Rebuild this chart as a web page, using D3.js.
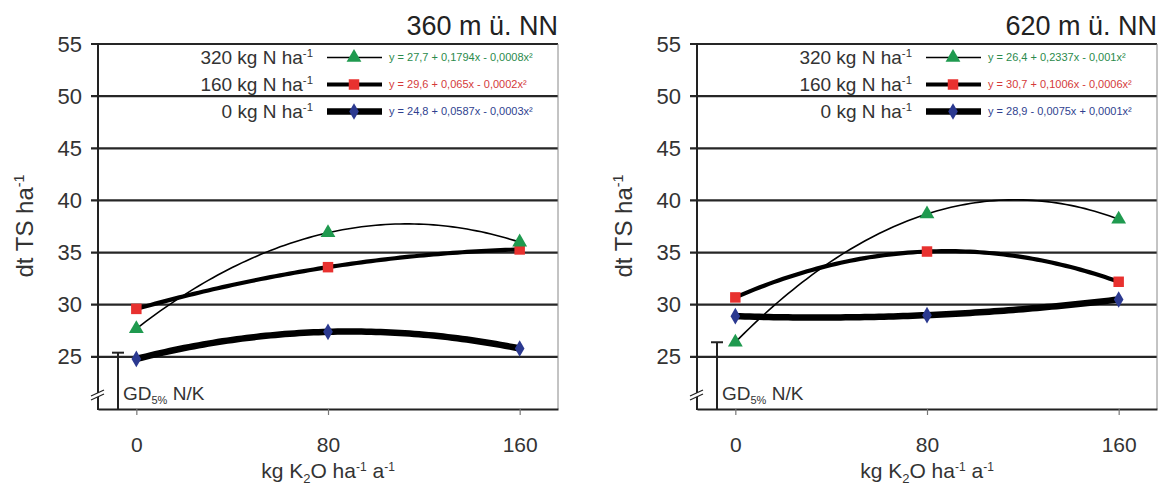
<!DOCTYPE html>
<html>
<head>
<meta charset="utf-8">
<script src="https://cdn.jsdelivr.net/npm/d3@7"></script>
<style>
  html, body { margin: 0; padding: 0; background: #fff; }
  svg { display: block; font-family: "Liberation Sans", Arial, sans-serif; }
</style>
</head>
<body>
<svg id="chart" width="1163" height="488"></svg>
<script>
// K2O application levels (kg K2O ha-1 a-1)
const kLevels = [0, 80, 160];
const yTicks = [25, 30, 35, 40, 45, 50, 55];
const nLabels = ["320", "160", "0"];

// Dry matter yield (dt TS ha-1), 360 m above sea level
const yield360_N320 = [27.7, 36.9, 36.0];
const yield360_N160 = [29.6, 33.6, 35.3];
const yield360_N0   = [24.8, 27.4, 25.8];
// Dry matter yield (dt TS ha-1), 620 m above sea level
const yield620_N320 = [26.4, 38.7, 38.2];
const yield620_N160 = [30.7, 35.1, 32.2];
const yield620_N0   = [28.9, 29.0, 30.5];

// Regression coefficients [c, b, a] for y = c + b·x + a·x²
const coef360 = [[27.7, 0.1794, -0.0008], [29.6, 0.065, -0.0002], [24.8, 0.0587, -0.0003]];
const coef620 = [[26.4, 0.2337, -0.001], [30.7, 0.1006, -0.0006], [28.9, -0.0075, 0.0001]];

// Least significant difference (GD 5 %, N/K)
const lsd = [5.4, 6.4];
const sites = ["360 m ü. NN", "620 m ü. NN"];

const seriesStyle = [
  { width: 1.6, shape: "triangle", mark: "#1f9a4f", text: "#2b8a4c" },
  { width: 4.2, shape: "square",   mark: "#e8312f", text: "#d43a3a" },
  { width: 6.5, shape: "diamond",  mark: "#2b3990", text: "#2f3f8f" }
];

const svg = d3.select("#chart");
const plotTop = 44, plotBottom = 409, axisColor = "#222";
const y = d3.scaleLinear().domain([20, 55]).range([plotBottom, plotTop]);

const panels = [
  { x0: 98,  x1: 558,  site: sites[0], data: [yield360_N320, yield360_N160, yield360_N0], coef: coef360, lsd: lsd[0] },
  { x0: 697, x1: 1157, site: sites[1], data: [yield620_N320, yield620_N160, yield620_N0], coef: coef620, lsd: lsd[1] }
];

// quadratic through the three treatment means (regression trend)
function fitQuad(xs, ys) {
  const [x0, x1, x2] = xs, [y0, y1, y2] = ys;
  return x => y0 * (x - x1) * (x - x2) / ((x0 - x1) * (x0 - x2))
            + y1 * (x - x0) * (x - x2) / ((x1 - x0) * (x1 - x2))
            + y2 * (x - x0) * (x - x1) / ((x2 - x0) * (x2 - x1));
}

function fmt(v) { return String(Math.abs(v)).replace(".", ","); }
function eqText(c) {
  return "y = " + fmt(c[0]) + (c[1] < 0 ? " - " : " + ") + fmt(c[1]) + "x" +
         (c[2] < 0 ? " - " : " + ") + fmt(c[2]) + "x²";
}

const sym = {
  triangle: d3.symbol().type(d3.symbolTriangle).size(95),
  square: d3.symbol().type(d3.symbolSquare).size(110),
  diamond: d3.symbol().type(d3.symbolDiamond).size(80)
};

function addUnit(sel, base, sup, size) {
  sel.append("tspan").text(base);
  sel.append("tspan").attr("font-size", size * 0.6).attr("dy", -size * 0.38).text(sup);
}

panels.forEach(p => {
  const x = d3.scaleLinear().domain([-16, 176]).range([p.x0, p.x1]);
  const g = svg.append("g");

  // horizontal gridlines
  g.selectAll("line.grid").data(yTicks).join("line")
    .attr("class", "grid")
    .attr("x1", p.x0 - 7).attr("x2", p.x1)
    .attr("y1", d => y(d)).attr("y2", d => y(d))
    .attr("stroke", "#262626").attr("stroke-width", 2.2);

  // right frame
  g.append("line").attr("x1", p.x1).attr("x2", p.x1).attr("y1", plotTop).attr("y2", plotBottom)
    .attr("stroke", "#888").attr("stroke-width", 1);

  // y axis
  const ya = g.append("g").attr("transform", `translate(${p.x0},0)`)
    .call(d3.axisLeft(y).tickValues(yTicks).tickSize(7).tickPadding(9).tickSizeOuter(0));
  ya.select(".domain").remove();
  ya.selectAll("line").remove();
  ya.selectAll("text").attr("font-size", 22).attr("fill", "#333").attr("font-family", "Liberation Sans, Arial, sans-serif");
  g.append("line").attr("x1", p.x0).attr("x2", p.x0).attr("y1", plotTop - 1).attr("y2", plotBottom + 1)
    .attr("stroke", axisColor).attr("stroke-width", 2);

  // axis break marks
  const bx = p.x0, by = 395;
  g.append("path")
    .attr("d", `M${bx - 7},${by + 1} L${bx + 6},${by - 5} L${bx + 6},${by - 1} L${bx - 7},${by + 5} Z`)
    .attr("fill", "#fff");
  [0, 4].forEach(o => g.append("line")
    .attr("x1", bx - 7).attr("y1", by + 1 + o).attr("x2", bx + 6).attr("y2", by - 5 + o)
    .attr("stroke", axisColor).attr("stroke-width", 1.3));

  // x axis
  const xa = g.append("g").attr("transform", `translate(0,${plotBottom})`)
    .call(d3.axisBottom(x).tickValues(kLevels).tickSize(6).tickPadding(22).tickSizeOuter(0));
  xa.select(".domain").attr("stroke", axisColor).attr("stroke-width", 2);
  xa.selectAll(".tick line").attr("stroke", "#777").attr("stroke-width", 1.2);
  xa.selectAll("text").attr("font-size", 21).attr("fill", "#333").attr("font-family", "Liberation Sans, Arial, sans-serif");

  // LSD bar
  const gx = p.x0 + 20;
  g.append("line").attr("x1", gx).attr("x2", gx).attr("y1", y(20 + p.lsd)).attr("y2", plotBottom)
    .attr("stroke", "#222").attr("stroke-width", 2);
  g.append("line").attr("x1", gx - 6).attr("x2", gx + 6).attr("y1", y(20 + p.lsd)).attr("y2", y(20 + p.lsd))
    .attr("stroke", "#222").attr("stroke-width", 2);
  const gt = g.append("text").attr("x", gx + 5).attr("y", 400).attr("font-size", 19).attr("fill", "#333");
  gt.append("tspan").text("GD");
  gt.append("tspan").attr("font-size", 11).attr("dy", 4).text("5%");
  gt.append("tspan").attr("dy", -4).text(" N/K");

  // trend curves and means
  const line = d3.line().x(d => x(d[0])).y(d => y(d[1]));
  const order = [2, 1, 0];
  order.forEach(i => {
    const f = fitQuad(kLevels, p.data[i]);
    const pts = d3.range(0, 160.01, 2).map(k => [k, f(k)]);
    g.append("path").attr("d", line(pts)).attr("fill", "none")
      .attr("stroke", "#000")
      .attr("stroke-width", seriesStyle[i].width).attr("stroke-linecap", "round");
  });
  order.forEach(i => {
    g.selectAll(null).data(kLevels.map((k, j) => [k, p.data[i][j]])).join("path")
      .attr("d", sym[seriesStyle[i].shape])
      .attr("transform", d => `translate(${x(d[0])},${y(d[1])})`)
      .attr("fill", seriesStyle[i].mark);
  });

  // legend
  const rowY = [57.5, 84.5, 111.5];
  nLabels.forEach((n, i) => {
    const t = g.append("text").attr("x", p.x1 - 245).attr("y", rowY[i]).attr("dy", "0.36em")
      .attr("text-anchor", "end").attr("font-size", 19).attr("fill", "#333");
    addUnit(t, n + " kg N ha", "-1", 19);
    g.append("line").attr("x1", p.x1 - 231).attr("x2", p.x1 - 176).attr("y1", rowY[i]).attr("y2", rowY[i])
      .attr("stroke", "#000").attr("stroke-width", seriesStyle[i].width);
    g.append("path").attr("d", sym[seriesStyle[i].shape])
      .attr("transform", `translate(${p.x1 - 204},${rowY[i]})`).attr("fill", seriesStyle[i].mark);
    g.append("text").attr("x", p.x1 - 169).attr("y", rowY[i]).attr("dy", "0.35em")
      .attr("font-size", 11).attr("fill", seriesStyle[i].text).text(eqText(p.coef[i]));
  });

  // site title
  g.append("text").attr("x", p.x1).attr("y", 35).attr("text-anchor", "end")
    .attr("font-size", 27).attr("fill", "#222").text(p.site);

  // axis titles
  const yt = g.append("text")
    .attr("transform", `translate(${p.x0 - 65},226) rotate(-90)`)
    .attr("text-anchor", "middle").attr("font-size", 24).attr("fill", "#333");
  addUnit(yt, "dt TS ha", "-1", 24);

  const xt = g.append("text").attr("x", (p.x0 + p.x1) / 2).attr("y", 478)
    .attr("text-anchor", "middle").attr("font-size", 21).attr("fill", "#333");
  xt.append("tspan").text("kg K");
  xt.append("tspan").attr("font-size", 13).attr("dy", 5).text("2");
  xt.append("tspan").attr("dy", -5).text("O ha");
  xt.append("tspan").attr("font-size", 12).attr("dy", -7).text("-1");
  xt.append("tspan").attr("dy", 7).text(" a");
  xt.append("tspan").attr("font-size", 12).attr("dy", -7).text("-1");
});
</script>
</body>
</html>
